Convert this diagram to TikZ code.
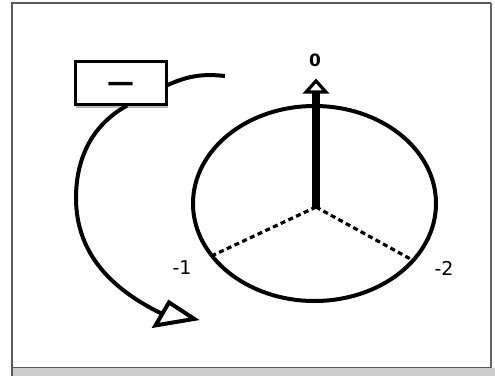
\documentclass[tikz,border=0pt]{standalone}
\usepackage{fontspec}
\setmainfont{DejaVu Sans}
\usetikzlibrary{arrows.meta,shapes.geometric}
\begin{document}
\begin{tikzpicture}[x=1pt,y=1pt,
  thickline/.style={line width=4pt},
  lbl/.style={font=\fontsize{19}{22}\selectfont, inner sep=0pt},
  frameline/.style={line width=1.5pt, black!65},
  spoke/.style={line width=3.2pt, dash pattern=on 5pt off 3.5pt},
]
\useasboundingbox (0,0) rectangle (495,376);
\fill[white] (0,0) rectangle (495,376);
% window frame
\fill[gray!40] (12,0) rectangle (495,8);
\draw[frameline] (12,0) -- (12,373) -- (491,373);
\draw[line width=2.5pt, black!60] (491,373) -- (491,8);
\draw[frameline] (12,8.5) -- (492,8.5);
% box with shadow
\fill[gray!55] (76,268.5) rectangle (168,271);
\node[draw, line width=2.2pt, fill=white, minimum width=91pt, minimum height=43pt, inner sep=0pt] (box) at (121,293) {};
\node[font=\fontsize{27}{27}\selectfont\bfseries, inner sep=0pt, anchor=center] (minus) at (120.5,289) {—};
% short free curve on the right of the box
\coordinate (rEnd) at (225,300);
\draw[thickline] (box.east |- 0,291) to[bend left=15] (rEnd);
% big curved arrow
\coordinate (aLeft) at (76,178);
\coordinate (tl) at (155.5,50.6);
\coordinate (tt) at (169,73.6);
\coordinate (tr) at (194.2,57.1);
\coordinate (aBase) at (162.2,62.1);
\draw[thickline] ([xshift=6pt]box.south) .. controls (90,250) and (76,215) .. (aLeft) .. controls (76,120) and (115,85) .. (aBase);
\draw[thickline, line join=miter] (tl) -- (tt) -- (tr) -- cycle;
% dial
\node[draw, ellipse, line width=4pt, minimum width=243pt, minimum height=195pt, inner sep=0pt, outer sep=0pt] (dial) at (314.5,172.5) {};
\coordinate (hub) at (316,169);
\draw[spoke] (hub) -- (dial.207);
\draw[spoke] (hub) -- (dial.330);
\draw[line width=7.5pt, -{Triangle[open, line width=3.2pt, length=15pt, width=26pt]}] (hub) -- (316,297.5) coordinate (ptip);
% labels
\node[lbl, font=\fontsize{17}{19}\selectfont\bfseries] (l0) at (315,316) {0};
\node[lbl] (l1) at (182,108) {-1};
\node[lbl] (l2) at (444,108) {-2};
\end{tikzpicture}
\end{document}
